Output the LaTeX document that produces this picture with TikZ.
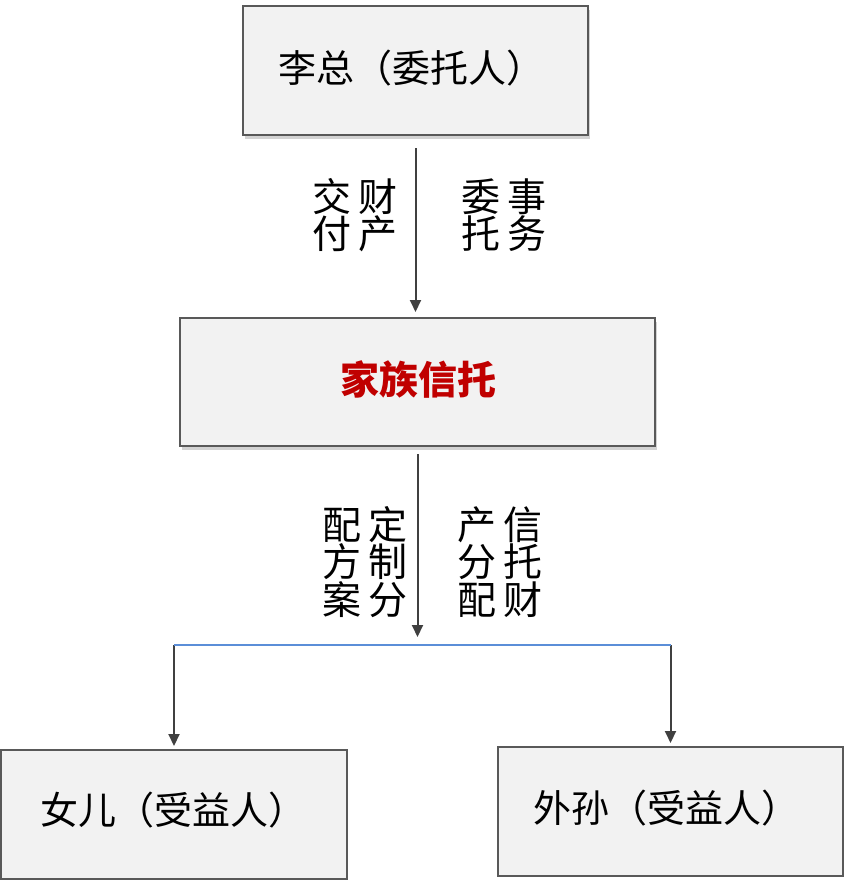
\documentclass[tikz,border=0pt]{standalone}
\usepackage{fontspec}
\setmainfont{Noto Sans CJK SC}
\usetikzlibrary{arrows.meta,shadows}

\definecolor{boxfill}{HTML}{F2F2F2}
\definecolor{boxline}{HTML}{595959}
\definecolor{arrowgray}{HTML}{404040}
\definecolor{splitblue}{HTML}{5B8ED8}
\definecolor{trustred}{HTML}{C00000}

\begin{document}
\begin{tikzpicture}[x=1pt, y=-1pt, line join=miter]
  \def\gap{\hspace{7pt}}   % 标签字距

  \tikzset{
    pbox/.style={draw=boxline, fill=boxfill, line width=2pt, inner sep=0pt},
    shbox/.style={pbox, drop shadow={opacity=0.35, shadow xshift=2pt, shadow yshift=-4pt}},
    txt/.style={inner sep=0pt, font=\fontsize{38}{40}\selectfont},
    lab/.style={inner sep=0pt, align=center, font=\fontsize{39}{37.5}\selectfont},
    conn/.style={draw=arrowgray, line width=2pt, -{Triangle[width=11pt,length=12pt]}}
  }

  \useasboundingbox (0,0) rectangle (845,882);

  % 方框
  \node[shbox, minimum width=345pt, minimum height=129pt] (lz) at (415.5,71) {};
  \node[shbox, minimum width=475pt, minimum height=128pt] (xt) at (417.5,382) {};
  \node[pbox, minimum width=346pt, minimum height=129pt] (ne) at (174,814.5) {};
  \node[pbox, minimum width=345pt, minimum height=129pt] (ws) at (670.5,811.5) {};

  % 框内文字
  \node[txt] (lzt) at (411,68) {李总（委托人）};
  \node[txt, font=\fontsize{39}{40}\selectfont\bfseries, text=trustred] (xtt) at (418,379) {家族信托};
  \node[txt] (net) at (173,810) {女儿（受益人）};
  \node[txt] (wst) at (666,808) {外孙（受益人）};

  % 分叉点
  \coordinate (fz) at (xt.south |- 0,645);
  \coordinate (fl) at (ne.north |- fz);
  \coordinate (fr) at (ws.north |- fz);

  % 连线
  \draw[conn, shorten <=12pt, shorten >=5pt] (lz.south) -- (lz.south |- xt.north);
  \draw[conn, shorten <=7pt, shorten >=8pt] (xt.south) -- (fz);
  \draw[conn, shorten >=3pt] (fl) -- (ne.north);
  \draw[conn, shorten >=3pt] (fr) -- (ws.north);
  \draw[splitblue, line width=2pt] (fl) -- (fr);

  % 连线旁的标签
  \node[lab] (jf) at (355,215) {交\gap 财\\付\gap 产};
  \node[lab] (wt) at (504,215) {委\gap 事\\托\gap 务};
  \node[lab] (dz) at (365,562) {配\gap 定\\方\gap 制\\案\gap 分};
  \node[lab] (cf) at (500,562) {产\gap 信\\分\gap 托\\配\gap 财};
\end{tikzpicture}
\end{document}
